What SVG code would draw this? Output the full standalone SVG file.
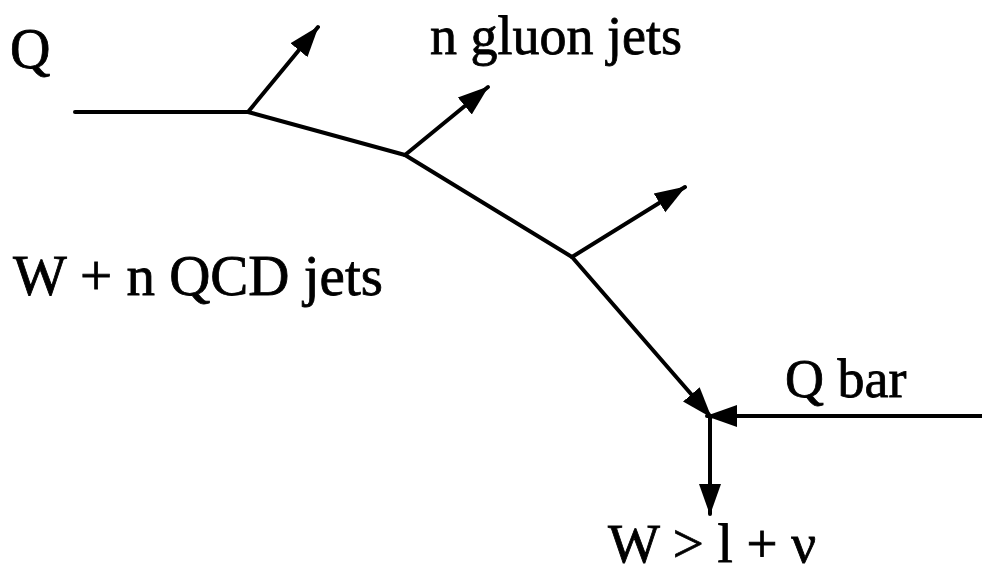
<svg xmlns="http://www.w3.org/2000/svg" width="982" height="575" viewBox="0 0 982 575">
<style>
text{font-family:"Liberation Serif","Times New Roman",serif;fill:#000;stroke:#000;stroke-width:0.8;}
.ln{stroke:#000;stroke-width:4;fill:none;stroke-linecap:round;}
.ar{marker-end:url(#ah);}
</style>
<defs>
<marker id="ah" markerWidth="32" markerHeight="24" refX="30" refY="12" orient="auto" markerUnits="userSpaceOnUse">
<path d="M0,1 L31,12 L0,23 Z" fill="#000"/>
</marker>
</defs>
<rect width="982" height="575" fill="#fff"/>
<g id="connectors">
<line class="ln" x1="75" y1="112" x2="248" y2="112"/>
<line class="ln" x1="248" y1="112" x2="405" y2="155"/>
<line class="ln" x1="405" y1="155" x2="572" y2="257"/>
<line class="ln ar" x1="572" y1="257" x2="711" y2="417"/>
<line class="ln ar" x1="248" y1="112" x2="318" y2="27"/>
<line class="ln ar" x1="405" y1="155" x2="488" y2="87"/>
<line class="ln ar" x1="572" y1="257" x2="685" y2="187"/>
<line class="ln ar" x1="982" y1="416" x2="707" y2="416"/>
<line class="ln ar" x1="710" y1="417" x2="710" y2="514"/>
</g>
<g id="label-q"><text x="10" y="68" font-size="56">Q</text></g>
<g id="label-gluon"><text x="430" y="54" font-size="54">n gluon jets</text></g>
<g id="label-wqcd"><text x="13" y="295" font-size="57">W + n QCD jets</text></g>
<g id="label-qbar"><text x="785" y="397" font-size="54">Q bar</text></g>
<g id="label-w"><text x="608" y="562" font-size="55">W &gt; l + ν</text></g>
</svg>
